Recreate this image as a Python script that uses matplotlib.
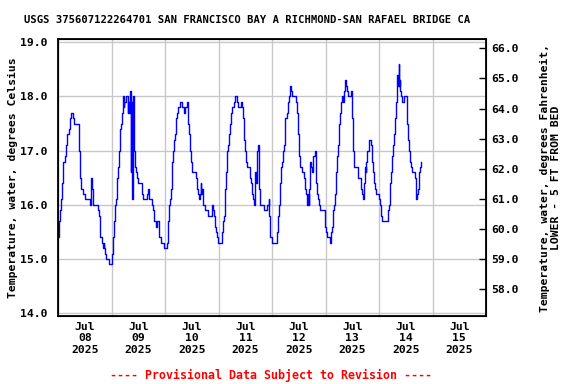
import numpy as np
import pandas as pd
import matplotlib
matplotlib.use('Agg')
import matplotlib.pyplot as plt
import matplotlib.dates as mdates

plt.rcParams['font.family'] = ['DejaVu Sans Mono']
plt.rcParams['font.weight'] = 'bold'

# hours since 2025-07-08 00:00 and water temperature (deg C)
hours = [0.0, 0.4, 0.8, 1.3, 1.7, 2.3, 2.9, 3.5, 4.0, 4.7, 5.3, 5.8, 6.5, 7.0, 8.8, 9.2, 9.4, 9.8, 10.4, 11.0,
         11.5, 12.1, 14.0, 14.3, 14.7, 15.0, 15.5, 17.4, 17.7, 18.2, 18.5, 18.9, 19.4, 19.8, 20.1, 20.4, 20.7, 21.0, 21.5, 22.5,
         22.7, 24.0, 24.2, 24.6, 25.1, 25.5, 26.0, 26.4, 26.9, 27.3, 27.8, 28.1, 28.4, 29.0, 29.3, 29.7, 30.2, 30.7, 31.2, 31.5,
         31.8, 32.1, 32.5, 32.8, 33.1, 33.4, 33.9, 34.3, 34.8, 35.2, 35.7, 37.2, 37.5, 38.1, 39.6, 39.9, 40.2, 40.8, 41.7, 42.0,
         42.4, 42.9, 43.9, 44.4, 45.1, 45.4, 45.9, 46.2, 46.9, 47.3, 48.5, 48.8, 49.4, 49.7, 50.2, 50.5, 50.9, 51.4, 51.8, 52.4,
         52.7, 53.2, 53.6, 54.1, 54.5, 55.3, 55.7, 56.6, 57.1, 57.7, 58.0, 58.3, 58.7, 59.2, 59.6, 60.1, 61.4, 61.9, 62.3, 62.7,
         63.0, 63.5, 63.9, 64.2, 64.7, 65.0, 65.6, 65.9, 66.8, 67.2, 68.9, 69.2, 69.5, 69.9, 70.4, 70.8, 71.3, 71.7, 73.4, 73.7,
         74.1, 74.4, 74.9, 75.3, 75.8, 76.2, 76.7, 77.1, 77.6, 78.0, 78.8, 79.2, 79.6, 80.1, 80.5, 81.4, 81.9, 82.3, 82.8, 83.2,
         83.7, 84.1, 84.6, 85.5, 85.9, 86.4, 86.8, 87.4, 87.7, 88.2, 88.5, 88.8, 89.1, 89.4, 89.8, 90.0, 90.4, 90.6, 92.2, 92.5,
         93.4, 93.7, 94.5, 94.6, 95.0, 95.5, 96.1, 97.6, 98.0, 98.5, 98.9, 99.4, 99.8, 100.3, 100.7, 101.2, 101.6, 101.9, 102.5, 103.0,
         103.4, 103.9, 104.3, 104.8, 105.2, 106.1, 106.6, 107.0, 107.5, 107.9, 108.4, 109.0, 109.2, 110.0, 110.4, 110.9, 111.3, 111.8, 112.1, 112.4,
         112.7, 113.0, 113.4, 113.7, 114.2, 114.6, 115.1, 115.5, 115.8, 116.3, 116.7, 117.2, 117.6, 119.1, 119.6, 119.9, 120.3, 120.8, 121.5, 122.0,
         122.4, 122.9, 123.3, 123.8, 124.2, 124.7, 125.1, 125.5, 126.0, 126.4, 126.9, 127.3, 127.9, 128.1, 128.5, 129.0, 129.4, 129.9, 131.2, 131.5,
         131.8, 132.0, 132.4, 132.9, 133.3, 134.1, 134.4, 134.7, 135.7, 136.0, 136.3, 136.6, 137.1, 137.4, 137.7, 138.0, 138.3, 138.7, 139.2, 139.6,
         140.2, 140.5, 141.0, 141.2, 141.5, 141.8, 142.1, 142.4, 142.7, 143.2, 143.6, 144.1, 144.5, 144.8, 145.3, 147.7, 148.0, 148.3, 148.7, 149.2,
         149.6, 150.1, 150.5, 151.0, 151.4, 151.9, 152.2, 152.5, 152.8, 152.9, 153.2, 153.5, 153.8, 154.1, 154.9, 155.2, 156.2, 156.5, 157.0, 157.4,
         157.8, 158.3, 158.7, 159.8, 160.1, 160.4, 160.8, 161.1, 161.4, 161.9, 162.2, 162.6]
temp_c = [15.4, 15.7, 15.9, 16.1, 16.4, 16.8, 16.9, 17.1, 17.3, 17.4, 17.6, 17.7, 17.6, 17.5, 17.5, 17.4, 17.0, 16.5, 16.3, 16.2,
          16.2, 16.1, 16.1, 16.0, 16.5, 16.3, 16.0, 16.0, 15.9, 15.8, 15.6, 15.4, 15.4, 15.3, 15.2, 15.3, 15.2, 15.1, 15.0, 15.0,
          14.9, 14.9, 15.1, 15.4, 15.7, 16.0, 16.1, 16.5, 16.7, 17.0, 17.4, 17.5, 17.7, 18.0, 17.8, 17.9, 18.0, 18.0, 17.7, 17.9,
          17.7, 18.1, 16.6, 17.9, 16.1, 18.0, 17.0, 16.7, 16.6, 16.5, 16.4, 16.4, 16.2, 16.1, 16.1, 16.2, 16.3, 16.1, 16.1, 16.0,
          15.9, 15.7, 15.6, 15.7, 15.6, 15.4, 15.4, 15.3, 15.3, 15.2, 15.2, 15.3, 15.7, 16.0, 16.1, 16.3, 16.8, 17.0, 17.2, 17.3,
          17.6, 17.7, 17.8, 17.8, 17.9, 17.9, 17.8, 17.7, 17.8, 17.9, 17.8, 17.5, 17.3, 17.0, 16.8, 16.6, 16.6, 16.5, 16.3, 16.2,
          16.1, 16.2, 16.4, 16.2, 16.3, 16.0, 16.0, 15.9, 15.9, 15.8, 15.8, 16.0, 15.9, 15.8, 15.6, 15.5, 15.4, 15.3, 15.3, 15.5,
          15.7, 15.8, 16.3, 16.6, 17.0, 17.1, 17.3, 17.5, 17.7, 17.8, 17.9, 18.0, 18.0, 17.9, 17.8, 17.8, 17.9, 17.8, 17.6, 17.2,
          17.0, 16.8, 16.7, 16.7, 16.5, 16.4, 16.2, 16.1, 16.0, 16.3, 16.6, 16.4, 16.6, 17.0, 17.1, 16.3, 16.3, 16.0, 16.0, 15.9,
          15.9, 16.0, 16.1, 15.8, 15.4, 15.4, 15.3, 15.3, 15.5, 15.8, 16.0, 16.4, 16.7, 16.8, 17.0, 17.1, 17.3, 17.6, 17.7, 17.9,
          18.0, 18.2, 18.1, 18.0, 18.0, 18.0, 17.9, 17.7, 17.3, 16.9, 16.7, 16.7, 16.6, 16.6, 16.5, 16.3, 16.2, 16.0, 16.2, 16.0,
          16.3, 16.8, 16.7, 16.6, 16.9, 16.9, 17.0, 16.8, 16.4, 16.2, 16.1, 16.0, 15.9, 15.9, 15.8, 15.6, 15.5, 15.4, 15.4, 15.3,
          15.5, 15.6, 15.9, 16.0, 16.2, 16.6, 16.9, 17.1, 17.5, 17.7, 17.9, 18.0, 17.9, 18.1, 18.3, 18.2, 18.1, 18.0, 18.0, 18.1,
          18.0, 17.6, 17.0, 16.7, 16.7, 16.7, 16.6, 16.5, 16.5, 16.3, 16.2, 16.1, 16.2, 16.4, 16.7, 16.6, 16.8, 17.0, 17.0, 17.2,
          17.2, 17.1, 16.8, 16.6, 16.5, 16.4, 16.3, 16.3, 16.2, 16.2, 16.2, 16.1, 16.0, 15.8, 15.7, 15.7, 15.9, 16.0, 16.4, 16.6,
          16.9, 17.1, 17.3, 17.6, 17.9, 18.1, 18.4, 18.2, 18.6, 18.2, 18.3, 18.1, 18.0, 17.9, 17.9, 18.0, 18.0, 17.5, 17.2, 17.0,
          16.8, 16.7, 16.6, 16.6, 16.5, 16.1, 16.2, 16.2, 16.3, 16.6, 16.7, 16.8]

title = 'USGS 375607122264701 SAN FRANCISCO BAY A RICHMOND-SAN RAFAEL BRIDGE CA'
left_label = 'Temperature, water, degrees Celsius'
right_label = 'Temperature, water, degrees Fahrenheit,\nLOWER - 5 FT FROM BED'
footer = '---- Provisional Data Subject to Revision ----'
c_ticks = [14.0, 15.0, 16.0, 17.0, 18.0, 19.0]
f_ticks = [58.0, 59.0, 60.0, 61.0, 62.0, 63.0, 64.0, 65.0, 66.0]

start = pd.Timestamp('2025-07-08')
end = pd.Timestamp('2025-07-16')
times = start + pd.to_timedelta(hours, unit='h')

fig = plt.figure(figsize=(5.76, 3.84), dpi=100)
ax = fig.add_axes([0.1012, 0.1771, 0.7426, 0.7206])

ax.plot(times, temp_c, color='#0000ff', lw=1.0, drawstyle='steps-post', zorder=3)

ylo, yhi = 13.95, 19.055
ax.set_ylim(ylo, yhi)
ax.set_xlim(start, end)
ax.set_yticks(c_ticks)
ax.set_yticklabels(['%.1f' % v for v in c_ticks])

# gridlines at midnight, date labels at noon
ax.xaxis.set_major_locator(mdates.DayLocator())
ax.xaxis.set_major_formatter(plt.NullFormatter())
ax.xaxis.set_minor_locator(mdates.HourLocator(byhour=[12]))
ax.xaxis.set_minor_formatter(mdates.DateFormatter('%b\n%d\n%Y'))
ax.tick_params(axis='x', which='both', length=0, labelsize=8.2, pad=4)
ax.tick_params(axis='y', length=0, labelsize=8.2, pad=8)
ax.grid(True, which='major', color='#c8c8c8', lw=1.0)
for sp in ax.spines.values():
    sp.set_linewidth(1.3)

ax.set_ylabel(left_label, fontsize=8.2, fontweight='bold', labelpad=1)

ax2 = ax.twinx()
ax2.set_ylim(ylo * 1.8 + 32, yhi * 1.8 + 32)
ax2.set_yticks(f_ticks)
ax2.set_yticklabels(['%.1f' % v for v in f_ticks])
ax2.tick_params(axis='y', direction='in', length=5, width=1, labelsize=8.2, pad=4)
ax2.set_ylabel(right_label, fontsize=8.2, fontweight='bold', labelpad=15, linespacing=1.1)

fig.text(24 / 576, 1 - 20 / 384, title, fontsize=7.6, fontweight='bold', ha='left', va='center')
fig.text(271 / 576, 1 - 375 / 384, footer, fontsize=8.4, fontweight='bold', color='#ff0000',
         ha='center', va='center')

fig.savefig('out.png', dpi=100)
